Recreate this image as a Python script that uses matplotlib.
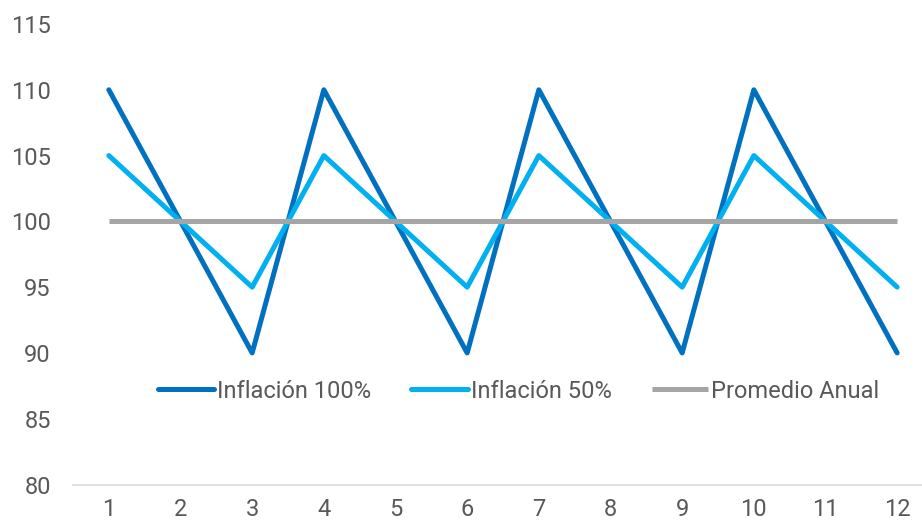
import matplotlib
matplotlib.use("Agg")
import matplotlib.pyplot as plt

months = [1, 2, 3, 4, 5, 6, 7, 8, 9, 10, 11, 12]
inflacion_100 = [110, 100, 90, 110, 100, 90, 110, 100, 90, 110, 100, 90]
inflacion_50 = [105, 100, 95, 105, 100, 95, 105, 100, 95, 105, 100, 95]
promedio_anual = [100] * 12
y_ticks = [80, 85, 90, 95, 100, 105, 110, 115]

plt.rcParams['font.family'] = ['Roboto', 'DejaVu Sans']

fig = plt.figure(figsize=(9.22, 5.27), dpi=100)
ax = fig.add_axes([73 / 922, 42.5 / 527, (933 - 73) / 922, (484.5 - 24) / 527])

ax.plot(months, inflacion_100, color='#0070C0', lw=3.6, label='Inflación 100%',
        solid_joinstyle='round', solid_capstyle='round')
ax.plot(months, inflacion_50, color='#00B0F0', lw=3.6, label='Inflación 50%',
        solid_joinstyle='round', solid_capstyle='round')
ax.plot(months, promedio_anual, color='#A5A5A5', lw=3.6, label='Promedio Anual',
        solid_capstyle='butt')

ax.set_xlim(0.5, 12.5)
ax.set_ylim(80, 115)
ax.set_xticks(months)
ax.set_yticks(y_ticks)
ax.tick_params(length=0, labelsize=17, labelcolor='#595959')
ax.tick_params(axis='x', pad=10)
ax.tick_params(axis='y', pad=16)

for side in ['top', 'right', 'left']:
    ax.spines[side].set_visible(False)
ax.spines['bottom'].set_color('#D9D9D9')
ax.spines['bottom'].set_linewidth(1.2)

leg = ax.legend(loc='center', bbox_to_anchor=(0.518, (87.1 - 80) / 35), ncol=3,
                frameon=False, fontsize=17, handlelength=2.4, handletextpad=0.12,
                columnspacing=1.7, labelcolor='#595959')

fig.savefig('out.png', dpi=100)
